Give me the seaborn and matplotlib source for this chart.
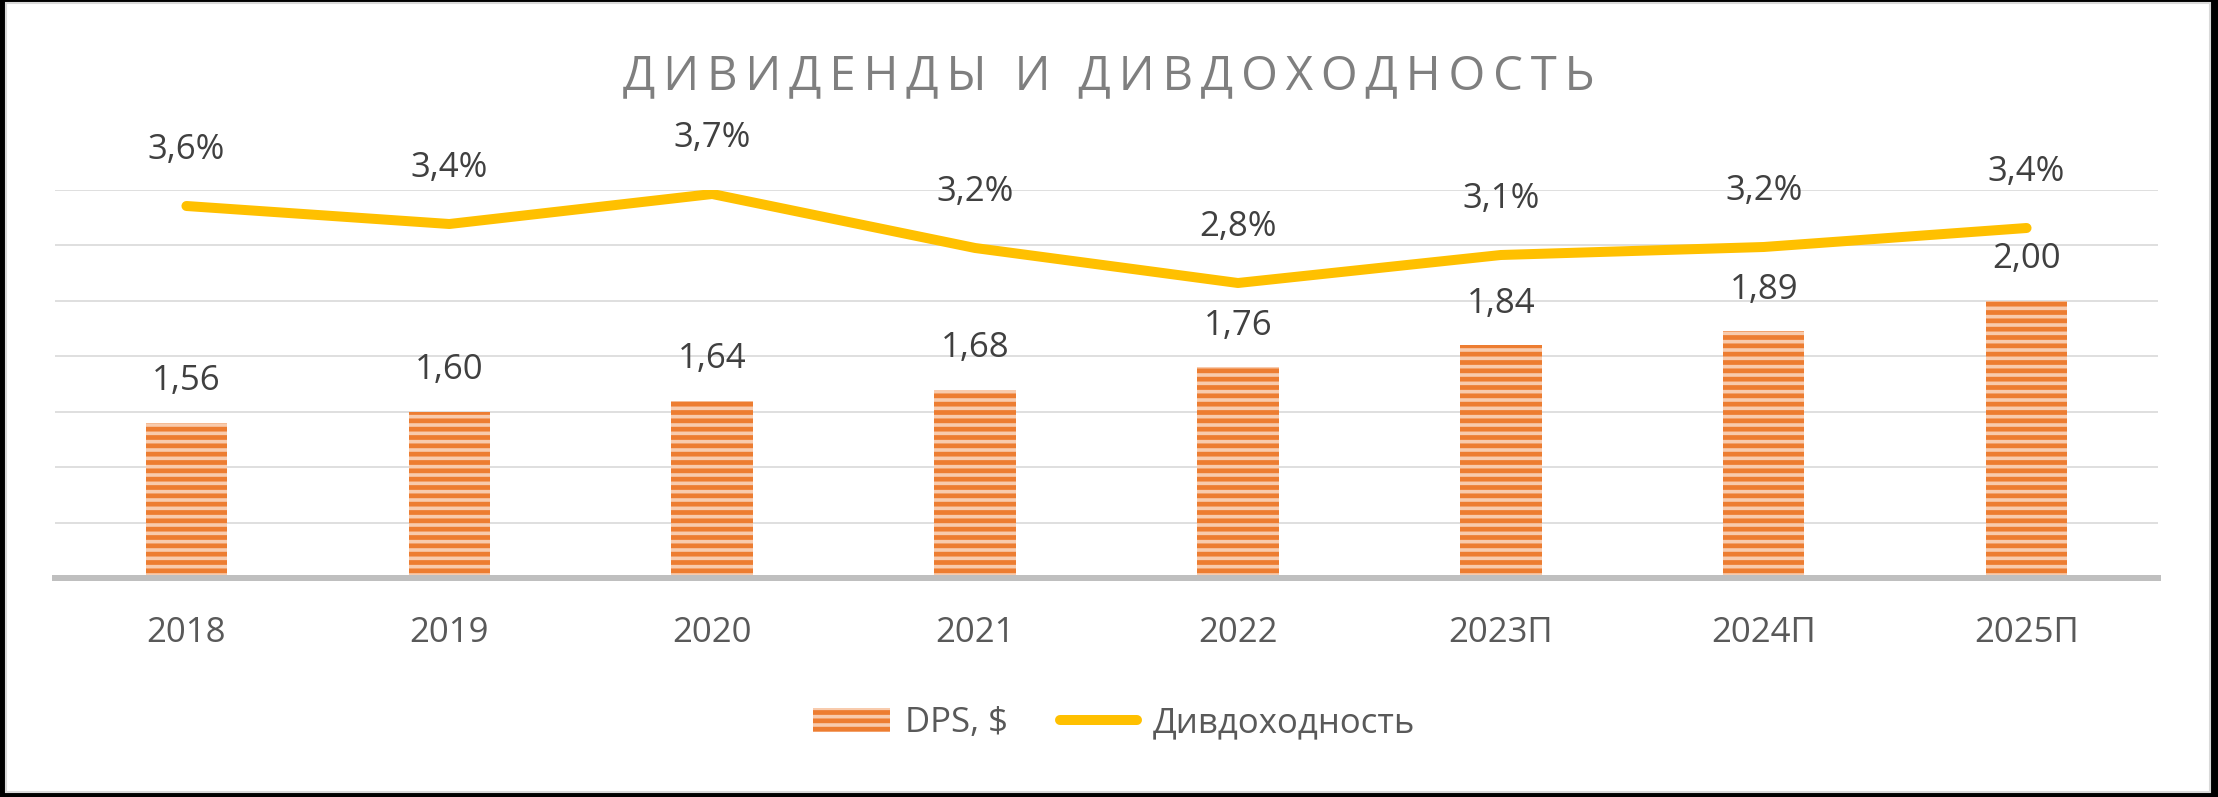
import numpy as np
import pandas as pd
import matplotlib
matplotlib.use("Agg")
import matplotlib.pyplot as plt
import seaborn as sns
from matplotlib.patches import Rectangle, Patch
from matplotlib.lines import Line2D

years = ["2018", "2019", "2020", "2021", "2022", "2023П", "2024П", "2025П"]
dps = [1.56, 1.60, 1.64, 1.68, 1.76, 1.84, 1.89, 2.00]
div_yield = [3.58, 3.40, 3.70, 3.16, 2.81, 3.09, 3.17, 3.36]

title = "ДИВИДЕНДЫ И ДИВДОХОДНОСТЬ"

sns.set_theme(style="white")
plt.rcParams["font.family"] = ["Open Sans", "DejaVu Sans"]
plt.rcParams["hatch.linewidth"] = 3.4

W, H = 2218, 797
bar_light = "#F8CBAD"
bar_dark = "#ED7D31"
line_col = "#FFC000"

df = pd.DataFrame({"year": years, "dps": dps, "yield": div_yield})

fig = plt.figure(figsize=(W / 100, H / 100), dpi=100, facecolor="black")
frame = Rectangle((6 / W, 5 / H), (2210 - 6) / W, (794 - 5) / H,
                  transform=fig.transFigure, facecolor="white",
                  edgecolor="#D9D9D9", linewidth=1.5, zorder=-1)
fig.add_artist(frame)

ax = fig.add_axes([55 / W, 219 / H, 2103 / W, 388 / H])
ax.patch.set_alpha(0)

sns.barplot(data=df, x="year", y="dps", ax=ax, color=bar_light,
            width=0.31, saturation=1)
for p in ax.patches:
    p.set_hatch("--")
    p.set_edgecolor(bar_dark)
    p.set_linewidth(0)

ax.set_ylim(1.0, 2.4)
ax.set_yticks(np.arange(1.2, 2.41, 0.2))
ax.yaxis.grid(True, color="#D9D9D9", linewidth=1.2)
ax.set_axisbelow(True)
ax.tick_params(axis="y", length=0, labelleft=False)
ax.tick_params(axis="x", length=0, pad=27, labelsize=25, labelcolor="#595959")
for s in ["top", "right", "left"]:
    ax.spines[s].set_visible(False)
ax.spines["bottom"].set_color("#BFBFBF")
ax.spines["bottom"].set_linewidth(4.3)
ax.set_xlabel("")
ax.set_ylabel("")

ax2 = ax.twinx()
sns.lineplot(data=df, x="year", y="yield", ax=ax2, color=line_col,
             linewidth=7.2, sort=False, solid_capstyle="round",
             solid_joinstyle="round")
ax2.set_ylim(-0.14, 3.74)
ax2.set_yticks([])
ax2.set_ylabel("")
ax2.set_xlabel("")
for s in ax2.spines.values():
    s.set_visible(False)
ax.set_xlim(-0.5, len(years) - 0.5)

for i, v in enumerate(dps):
    ax.annotate(f"{v:.2f}".replace(".", ","), (i, v), xytext=(0, 30),
                textcoords="offset points", ha="center", va="center",
                fontsize=25, color="#404040")
for i, v in enumerate(div_yield):
    ax2.annotate(f"{v:.1f}%".replace(".", ","), (i, v), xytext=(0, 40),
                 textcoords="offset points", ha="center", va="center",
                 fontsize=25, color="#404040")

# letter-spaced title
fig.text(0.5, 1 - 76 / H, "\u2006".join(title), ha="center", va="center",
         fontsize=34, color="#7F7F7F")

handles = [
    Patch(facecolor=bar_light, edgecolor=bar_dark, hatch="--", linewidth=0,
          label="DPS, $"),
    Line2D([], [], color=line_col, linewidth=7.2, solid_capstyle="round",
           label="Дивдоходность"),
]
fig.legend(handles=handles, loc="center", bbox_to_anchor=(1114 / W, 74 / H),
           ncol=2, frameon=False, fontsize=25, labelcolor="#595959",
           handlelength=2.2, handletextpad=0.45, columnspacing=1.5)

fig.savefig("out.png", dpi=100, facecolor=fig.get_facecolor())
